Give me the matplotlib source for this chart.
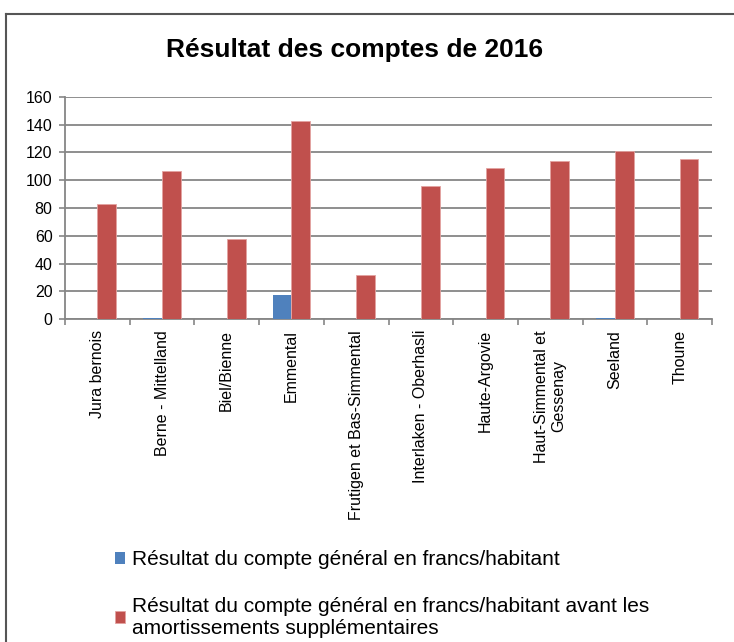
import numpy as np
import matplotlib
matplotlib.use("Agg")
import matplotlib.pyplot as plt
from matplotlib.lines import Line2D

plt.rcParams["font.family"] = ["Liberation Sans", "DejaVu Sans"]

regions = ["Jura bernois", "Berne - Mittelland", "Biel/Bienne", "Emmental",
           "Frutigen et Bas-Simmental", "Interlaken - Oberhasli", "Haute-Argovie",
           "Haut-Simmental et\nGessenay", "Seeland", "Thoune"]
result_general = [0.0, 0.4, 0.0, 17.3, 0.0, 0.0, 0.0, 0.0, 0.6, 0.0]
result_before_amort = [83, 107, 58, 143, 32, 96, 109, 114, 121, 115]
y_ticks = [0, 20, 40, 60, 80, 100, 120, 140, 160]

label_blue = "Résultat du compte général en francs/habitant"
label_red = ("Résultat du compte général en francs/habitant avant les\n"
             "amortissements supplémentaires")

BLUE = "#4F81BD"
RED = "#C0504D"
GRID = "#868686"

fig = plt.figure(figsize=(7.34, 6.42), dpi=100)
ax = fig.add_axes([65 / 734, 1 - 319 / 642, (712 - 65) / 734, (319 - 97) / 642])

x = np.arange(len(regions))
w = 0.29
b1 = ax.bar(x - w / 2, result_general, w, color=BLUE, label=label_blue, zorder=3)
b2 = ax.bar(x + w / 2, result_before_amort, w, color=RED, edgecolor="#e3a3a1",
            linewidth=0.6, label=label_red, zorder=3)

ax.set_xlim(-0.5, len(regions) - 0.5)
ax.set_ylim(0, 160)
ax.set_yticks(y_ticks)
ax.yaxis.grid(True, color=GRID, linewidth=1.3, zorder=0)
ax.set_axisbelow(True)

ax.set_xticks(x)
ax.set_xticklabels(regions, rotation=90, va="top", ha="center", multialignment="center")
ax.set_xticks(np.arange(-0.5, len(regions)), minor=True)
ax.tick_params(axis="x", which="major", length=0, pad=8, labelsize=11.5)
ax.tick_params(axis="x", which="minor", length=4, width=1.2, color=GRID)
ax.tick_params(axis="y", length=4, width=1.2, color=GRID, pad=5, labelsize=11.5)

for s in ("top", "right"):
    ax.spines[s].set_visible(False)
for s in ("left", "bottom"):
    ax.spines[s].set_color(GRID)
    ax.spines[s].set_linewidth(1.3)

fig.text(355 / 734, 1 - 50 / 642, "Résultat des comptes de 2016", ha="center",
         va="center", fontsize=19, fontweight="bold")

fig.legend(handles=[b1, b2], loc="upper left", bbox_to_anchor=(115 / 734, 1 - 550 / 642),
           frameon=False, fontsize=15, handlelength=0.5, handleheight=0.5,
           handletextpad=0.3, labelspacing=1.33, borderpad=0, borderaxespad=0)

# chart frame (left + top edges visible)
fig.add_artist(Line2D([6 / 734, 6 / 734], [0, 1 - 14 / 642], transform=fig.transFigure,
                      color="#555555", linewidth=1.5))
fig.add_artist(Line2D([6 / 734, 1], [1 - 14 / 642, 1 - 14 / 642], transform=fig.transFigure,
                      color="#555555", linewidth=1.5))

fig.savefig("out.png", dpi=100)
